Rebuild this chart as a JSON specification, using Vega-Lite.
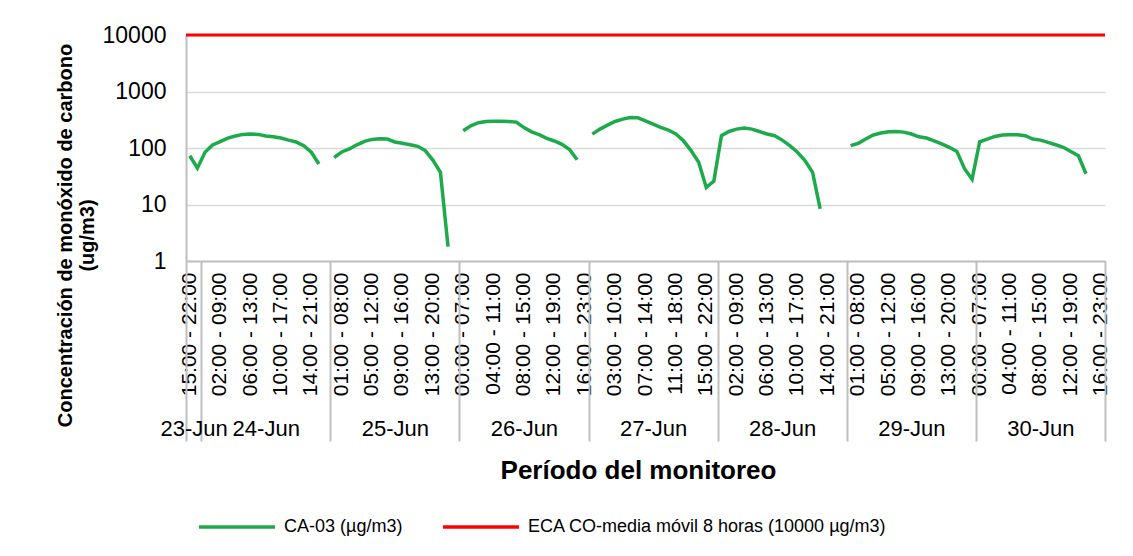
{
  "$schema": "https://vega.github.io/schema/vega-lite/v6.json",
  "width": 919,
  "height": 226,
  "autosize": "none",
  "padding": {"left": 186, "top": 35, "right": 28, "bottom": 295},
  "background": "#ffffff",
  "config": {"font": "Liberation Sans", "view": {"stroke": null}},
  "datasets": {
    "ca03": [
      {"k": "23-Jun|15:00 - 22:00", "v": 73}, {"k": "23-Jun|16:00 - 23:00", "v": 44},
      {"k": "24-Jun|00:00 - 07:00", "v": 84}, {"k": "24-Jun|01:00 - 08:00", "v": 113}, {"k": "24-Jun|02:00 - 09:00", "v": 130}, {"k": "24-Jun|03:00 - 10:00", "v": 150}, {"k": "24-Jun|04:00 - 11:00", "v": 163}, {"k": "24-Jun|05:00 - 12:00", "v": 174}, {"k": "24-Jun|06:00 - 13:00", "v": 177}, {"k": "24-Jun|07:00 - 14:00", "v": 174}, {"k": "24-Jun|08:00 - 15:00", "v": 163}, {"k": "24-Jun|09:00 - 16:00", "v": 158}, {"k": "24-Jun|10:00 - 17:00", "v": 150}, {"k": "24-Jun|11:00 - 18:00", "v": 138}, {"k": "24-Jun|12:00 - 19:00", "v": 128}, {"k": "24-Jun|13:00 - 20:00", "v": 110}, {"k": "24-Jun|14:00 - 21:00", "v": 84}, {"k": "24-Jun|15:00 - 22:00", "v": 52}, {"k": "24-Jun|16:00 - 23:00", "v": null},
      {"k": "25-Jun|00:00 - 07:00", "v": 68}, {"k": "25-Jun|01:00 - 08:00", "v": 85}, {"k": "25-Jun|02:00 - 09:00", "v": 96}, {"k": "25-Jun|03:00 - 10:00", "v": 114}, {"k": "25-Jun|04:00 - 11:00", "v": 131}, {"k": "25-Jun|05:00 - 12:00", "v": 142}, {"k": "25-Jun|06:00 - 13:00", "v": 146}, {"k": "25-Jun|07:00 - 14:00", "v": 144}, {"k": "25-Jun|08:00 - 15:00", "v": 128}, {"k": "25-Jun|09:00 - 16:00", "v": 121}, {"k": "25-Jun|10:00 - 17:00", "v": 114}, {"k": "25-Jun|11:00 - 18:00", "v": 107}, {"k": "25-Jun|12:00 - 19:00", "v": 90}, {"k": "25-Jun|13:00 - 20:00", "v": 61}, {"k": "25-Jun|14:00 - 21:00", "v": 37}, {"k": "25-Jun|15:00 - 22:00", "v": 1.8}, {"k": "25-Jun|16:00 - 23:00", "v": null},
      {"k": "26-Jun|00:00 - 07:00", "v": 202}, {"k": "26-Jun|01:00 - 08:00", "v": 247}, {"k": "26-Jun|02:00 - 09:00", "v": 280}, {"k": "26-Jun|03:00 - 10:00", "v": 295}, {"k": "26-Jun|04:00 - 11:00", "v": 298}, {"k": "26-Jun|05:00 - 12:00", "v": 298}, {"k": "26-Jun|06:00 - 13:00", "v": 295}, {"k": "26-Jun|07:00 - 14:00", "v": 287}, {"k": "26-Jun|08:00 - 15:00", "v": 230}, {"k": "26-Jun|09:00 - 16:00", "v": 193}, {"k": "26-Jun|10:00 - 17:00", "v": 172}, {"k": "26-Jun|11:00 - 18:00", "v": 148}, {"k": "26-Jun|12:00 - 19:00", "v": 133}, {"k": "26-Jun|13:00 - 20:00", "v": 116}, {"k": "26-Jun|14:00 - 21:00", "v": 94}, {"k": "26-Jun|15:00 - 22:00", "v": 62}, {"k": "26-Jun|16:00 - 23:00", "v": null},
      {"k": "27-Jun|00:00 - 07:00", "v": 176}, {"k": "27-Jun|01:00 - 08:00", "v": 216}, {"k": "27-Jun|02:00 - 09:00", "v": 254}, {"k": "27-Jun|03:00 - 10:00", "v": 295}, {"k": "27-Jun|04:00 - 11:00", "v": 325}, {"k": "27-Jun|05:00 - 12:00", "v": 347}, {"k": "27-Jun|06:00 - 13:00", "v": 342}, {"k": "27-Jun|07:00 - 14:00", "v": 303}, {"k": "27-Jun|08:00 - 15:00", "v": 264}, {"k": "27-Jun|09:00 - 16:00", "v": 231}, {"k": "27-Jun|10:00 - 17:00", "v": 208}, {"k": "27-Jun|11:00 - 18:00", "v": 177}, {"k": "27-Jun|12:00 - 19:00", "v": 134}, {"k": "27-Jun|13:00 - 20:00", "v": 90}, {"k": "27-Jun|14:00 - 21:00", "v": 56}, {"k": "27-Jun|15:00 - 22:00", "v": 20}, {"k": "27-Jun|16:00 - 23:00", "v": 26},
      {"k": "28-Jun|00:00 - 07:00", "v": 165}, {"k": "28-Jun|01:00 - 08:00", "v": 196}, {"k": "28-Jun|02:00 - 09:00", "v": 216}, {"k": "28-Jun|03:00 - 10:00", "v": 225}, {"k": "28-Jun|04:00 - 11:00", "v": 216}, {"k": "28-Jun|05:00 - 12:00", "v": 196}, {"k": "28-Jun|06:00 - 13:00", "v": 177}, {"k": "28-Jun|07:00 - 14:00", "v": 165}, {"k": "28-Jun|08:00 - 15:00", "v": 138}, {"k": "28-Jun|09:00 - 16:00", "v": 110}, {"k": "28-Jun|10:00 - 17:00", "v": 84}, {"k": "28-Jun|11:00 - 18:00", "v": 60}, {"k": "28-Jun|12:00 - 19:00", "v": 37}, {"k": "28-Jun|13:00 - 20:00", "v": 8.4}, {"k": "28-Jun|14:00 - 21:00", "v": null}, {"k": "28-Jun|15:00 - 22:00", "v": null}, {"k": "28-Jun|16:00 - 23:00", "v": null},
      {"k": "29-Jun|00:00 - 07:00", "v": 110}, {"k": "29-Jun|01:00 - 08:00", "v": 121}, {"k": "29-Jun|02:00 - 09:00", "v": 144}, {"k": "29-Jun|03:00 - 10:00", "v": 170}, {"k": "29-Jun|04:00 - 11:00", "v": 184}, {"k": "29-Jun|05:00 - 12:00", "v": 194}, {"k": "29-Jun|06:00 - 13:00", "v": 196}, {"k": "29-Jun|07:00 - 14:00", "v": 191}, {"k": "29-Jun|08:00 - 15:00", "v": 177}, {"k": "29-Jun|09:00 - 16:00", "v": 158}, {"k": "29-Jun|10:00 - 17:00", "v": 150}, {"k": "29-Jun|11:00 - 18:00", "v": 134}, {"k": "29-Jun|12:00 - 19:00", "v": 118}, {"k": "29-Jun|13:00 - 20:00", "v": 103}, {"k": "29-Jun|14:00 - 21:00", "v": 87}, {"k": "29-Jun|15:00 - 22:00", "v": 43}, {"k": "29-Jun|16:00 - 23:00", "v": 28},
      {"k": "30-Jun|00:00 - 07:00", "v": 129}, {"k": "30-Jun|01:00 - 08:00", "v": 144}, {"k": "30-Jun|02:00 - 09:00", "v": 160}, {"k": "30-Jun|03:00 - 10:00", "v": 170}, {"k": "30-Jun|04:00 - 11:00", "v": 172}, {"k": "30-Jun|05:00 - 12:00", "v": 172}, {"k": "30-Jun|06:00 - 13:00", "v": 165}, {"k": "30-Jun|07:00 - 14:00", "v": 144}, {"k": "30-Jun|08:00 - 15:00", "v": 138}, {"k": "30-Jun|09:00 - 16:00", "v": 126}, {"k": "30-Jun|10:00 - 17:00", "v": 114}, {"k": "30-Jun|11:00 - 18:00", "v": 103}, {"k": "30-Jun|12:00 - 19:00", "v": 87}, {"k": "30-Jun|13:00 - 20:00", "v": 73}, {"k": "30-Jun|14:00 - 21:00", "v": 35}, {"k": "30-Jun|15:00 - 22:00", "v": null}, {"k": "30-Jun|16:00 - 23:00", "v": null}
    ],
    "eca": [
      {"serie": "ECA CO-media móvil 8 horas (10000 µg/m3)", "limite": 10000}
    ]
  },
  "layer": [
    {
      "data": {"name": "ca03"},
      "mark": {"type": "line", "strokeWidth": 3.5, "invalid": "break-paths-filter-domains"},
      "encoding": {
        "x": {
          "field": "k", "type": "ordinal", "sort": null,
          "scale": {"type": "band", "paddingInner": 0, "paddingOuter": 0},
          "axis": {
            "orient": "bottom", "title": null, "grid": false,
            "domainColor": "#bfbfbf", "domainWidth": 2, "ticks": false,
            "labelExpr": "round(datum.index * 120) % 4 == 0 ? split(datum.value, '|')[1] : ''",
            "labelAngle": -90, "labelAlign": "right", "labelBaseline": "middle",
            "labelFontSize": 21, "labelColor": "#000000", "labelPadding": 11, "labelOverlap": false, "labelBound": false
          }
        },
        "y": {
          "field": "v", "type": "quantitative",
          "scale": {"type": "log", "domain": [1, 10000]},
          "axis": {
            "title": ["Concentración de monóxido de carbono", "(ug/m3)"],
            "titleFontSize": 20, "titleFontWeight": "bold", "titleColor": "#000000", "titlePadding": 5, "titleY": 200,
            "values": [1, 10, 100, 1000, 10000], "format": "d",
            "labelFontSize": 23, "labelColor": "#000000", "labelPadding": 20, "ticks": false,
            "domainColor": "#bfbfbf", "domainWidth": 2, "gridColor": "#d9d9d9", "gridWidth": 1.5
          }
        },
        "color": {
          "datum": "CA-03 (µg/m3)", "type": "nominal", "title": null,
          "scale": {"domain": ["CA-03 (µg/m3)", "ECA CO-media móvil 8 horas (10000 µg/m3)"], "range": ["#1DAA4B", "#FF0000"]},
          "legend": {
            "orient": "none", "legendX": 11, "legendY": 452, "direction": "horizontal", "title": null,
            "symbolType": "stroke", "symbolSize": 5776, "symbolStrokeWidth": 3.5,
            "labelFontSize": 18, "labelColor": "#000000", "labelOffset": 7, "columnPadding": 33, "labelLimit": 600
          }
        }
      }
    },
    {
      "data": {"name": "eca"},
      "mark": {"type": "rule", "strokeWidth": 3},
      "encoding": {
        "y": {"field": "limite", "type": "quantitative"},
        "color": {"field": "serie", "type": "nominal", "title": null}
      }
    },
    {
      "data": {"name": "ca03"},
      "mark": {"type": "line", "opacity": 0, "invalid": "break-paths-filter-domains"},
      "encoding": {
        "x": {
          "field": "k", "type": "ordinal", "sort": null,
          "axis": {
            "orient": "bottom", "domain": false, "grid": false,
            "tickBand": "extent", "ticks": true, "tickColor": "#bfbfbf", "tickWidth": 2,
            "tickSize": {"condition": {"test": "datum.extra || indexof(datum.value, '16:00 - 23:00') >= 0", "value": 180}, "value": 0},
            "labelExpr": "split(datum.value, '|')[1] == '08:00 - 15:00' ? split(datum.value, '|')[0] : (datum.value == '23-Jun|15:00 - 22:00' ? '23-Jun' : '')",
            "labelOffset": {"condition": {"test": "datum.value == '23-Jun|15:00 - 22:00'", "value": 3.8}, "value": 0},
            "labelAngle": 0, "labelAlign": "center", "labelBaseline": "top", "labelPadding": 157,
            "labelFontSize": 22, "labelColor": "#000000", "labelOverlap": false, "labelBound": false,
            "title": "Período del monitoreo", "titleFontSize": 26, "titleFontWeight": "bold", "titleColor": "#000000", "titlePadding": -4, "titleX": 452
          }
        },
        "y": {"field": "v", "type": "quantitative"}
      }
    }
  ],
  "resolve": {"axis": {"x": "independent"}}
}
